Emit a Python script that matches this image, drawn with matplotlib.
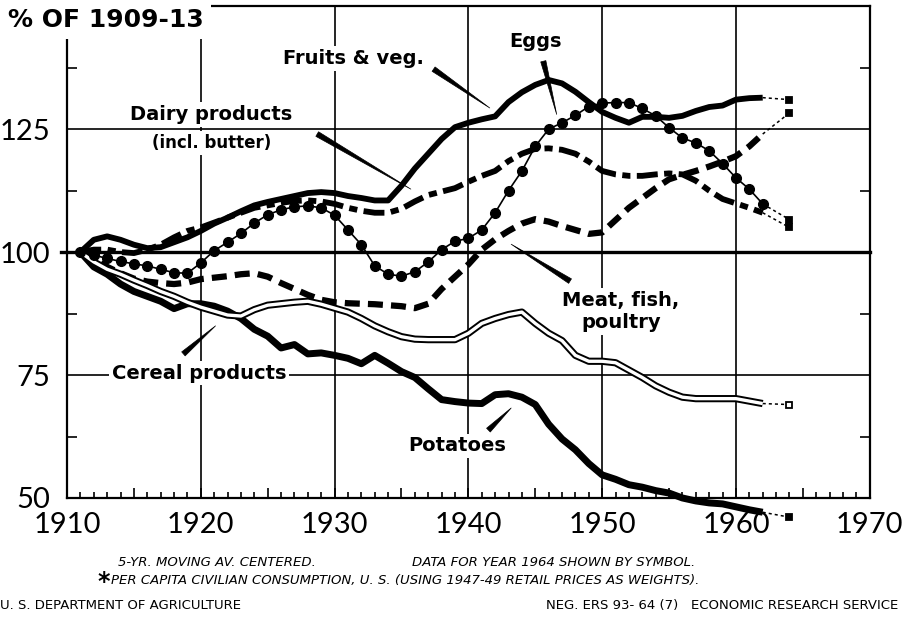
import matplotlib.pyplot as plt
from matplotlib.ticker import MultipleLocator, FixedLocator, FuncFormatter

# 5-yr moving averages, % of 1909-13
years = list(range(1911, 1963))
fruits_veg = [100, 102.5, 103.2, 102.5, 101.5, 100.8, 101.0, 102.0, 103.0, 104.3,
              105.8, 107.0, 108.3, 109.5, 110.2, 110.8, 111.4, 112.0, 112.2, 112.0,
              111.4, 111.0, 110.5, 110.5, 113.5, 117.0, 120.0, 123.0, 125.4, 126.3,
              127.0, 127.6, 130.5, 132.5, 134.0, 135.0, 134.3, 132.6, 130.5, 128.5,
              127.3, 126.3, 127.5, 127.5, 127.3, 127.7, 128.7, 129.5, 129.8, 131.0,
              131.3, 131.4]
dairy = [100, 100.5, 100.5, 100.0, 99.8, 100.5, 101.5, 103.0, 104.3, 105.0,
         106.0, 107.0, 108.0, 109.0, 109.5, 110.0, 110.4, 110.5, 110.3, 109.8,
         109.0, 108.4, 108.0, 108.0, 108.8, 110.3, 111.6, 112.3, 113.0, 114.3,
         115.5, 116.5, 118.5, 120.0, 121.0, 121.1, 120.8, 120.0, 118.4, 116.5,
         115.8, 115.5, 115.5, 115.8, 116.0, 115.8, 114.5, 112.5, 110.8, 109.9,
         109.0, 108.0]
eggs = [100, 99.4, 98.7, 98.1, 97.6, 97.2, 96.5, 95.8, 95.7, 97.8,
        100.3, 102.0, 103.8, 105.9, 107.6, 108.6, 109.2, 109.4, 109.0, 107.5,
        104.5, 101.5, 97.2, 95.5, 95.1, 96.0, 98.0, 100.5, 102.2, 102.8,
        104.5, 108.0, 112.5, 116.5, 121.5, 125.0, 126.3, 127.8, 129.6, 130.3,
        130.4, 130.4, 129.2, 127.7, 125.3, 123.2, 122.2, 120.6, 118.0, 115.1,
        112.8, 109.8]
meat = [100, 98.5, 97.0, 95.7, 94.6, 94.0, 93.7, 93.5, 93.8, 94.5,
        94.8, 95.1, 95.5, 95.7, 95.0, 93.7, 92.5, 91.3, 90.3, 89.8,
        89.6, 89.5, 89.4, 89.2, 89.0, 88.6, 89.5, 92.5, 95.0, 97.5,
        100.5, 102.6, 104.3, 105.8, 106.7, 106.2, 105.3, 104.5, 103.7, 104.0,
        106.5, 109.0, 111.0, 113.0, 114.8, 115.7, 116.5, 117.4, 118.4, 119.5,
        121.5, 124.0]
cereal = [100, 98.0, 96.5, 95.5, 94.3, 93.2, 92.0, 91.0, 89.8, 88.8,
          88.0, 87.2, 87.0, 88.3, 89.2, 89.5, 89.8, 90.0, 89.4, 88.6,
          87.8, 86.5, 85.0, 83.8, 82.8, 82.3, 82.2, 82.2, 82.2, 83.5,
          85.5, 86.5, 87.3, 87.8, 85.5, 83.5, 82.0, 79.0, 77.8, 77.8,
          77.5, 76.0, 74.5, 72.8, 71.5, 70.5, 70.2, 70.2, 70.2, 70.2,
          69.7, 69.2]
potatoes = [100, 97.0, 95.5, 93.5, 92.0, 91.0, 90.0, 88.5, 89.5, 89.5,
            89.0, 88.0, 86.5, 84.3, 82.9, 80.5, 81.2, 79.3, 79.5, 79.0,
            78.4, 77.3, 79.0, 77.4, 75.7, 74.5, 72.2, 70.0, 69.6, 69.3,
            69.2, 71.0, 71.2, 70.5, 69.0, 65.0, 62.0, 59.8, 57.0, 54.7,
            53.8, 52.7, 52.2, 51.5, 51.0, 50.0, 49.4, 49.0, 48.8, 48.2,
            47.6, 47.1]

# data for 1964, shown by symbol
year_1964 = 1964
fruits_veg_1964 = 131.0
dairy_1964 = 105.0
eggs_1964 = 106.6
meat_1964 = 128.3
cereal_1964 = 69.0
potatoes_1964 = 46.1

fig = plt.figure(figsize=(9.07, 6.19), dpi=100)
ax = fig.add_axes([0.0739, 0.1955, 0.885, 0.7945])
ax.set_xlim(1910, 1970)
ax.set_ylim(50, 150)

# grid
for yr in [1920, 1930, 1940, 1950, 1960]:
    ax.axvline(yr, color='black', lw=1.2, zorder=0.5)
ax.axhline(125, color='black', lw=1.2, zorder=0.5)
ax.axhline(75, color='black', lw=1.2, zorder=0.5)
ax.axhline(100, xmin=-0.008, color='black', lw=2.4, zorder=0.5, clip_on=False)

# lines
ax.plot(years, potatoes, color='black', lw=5, solid_capstyle='butt', zorder=4, clip_on=False)
ax.plot(years, cereal, color='black', lw=5.2, solid_capstyle='butt', zorder=5)
ax.plot(years, cereal, color='white', lw=2.4, solid_capstyle='butt', zorder=5.1)
ax.plot(years, fruits_veg, color='black', lw=4.2, solid_capstyle='butt', zorder=4)
ax.plot(years, meat, color='black', lw=4.5, dashes=(2.4, 1.3), dash_capstyle='butt', zorder=4)
ax.plot(years, dairy, color='black', lw=4.2, dashes=(3.6, 1.1, 1.4, 1.1), dash_capstyle='butt', zorder=4)
ax.plot(years, eggs, color='black', lw=1.2, marker='o', ms=7, zorder=6)

# 1964 symbols joined by short dotted lines
ends = [(fruits_veg[-1], fruits_veg_1964, 'black'),
        (dairy[-1], dairy_1964, 'black'),
        (eggs[-1], eggs_1964, 'black'),
        (meat[-1], meat_1964, 'black'),
        (cereal[-1], cereal_1964, 'white'),
        (potatoes[-1], potatoes_1964, 'black')]
for last, val, face in ends:
    ax.plot([years[-1], year_1964], [last, val], color='black', lw=1.1,
            dashes=(2, 2), zorder=3, clip_on=False)
    ax.plot([year_1964], [val], marker='s', ms=5, mfc=face, mec='black',
            mew=1.3, zorder=7, clip_on=False)

# labels
lab = dict(fontsize=14, fontweight='bold', ha='center', va='center', zorder=2,
           bbox=dict(facecolor='white', edgecolor='none', pad=2))
ax.text(1931.4, 139.4, 'Fruits & veg.', **lab)
ax.text(1945.0, 142.9, 'Eggs', **lab)
ax.text(1920.8, 128.0, 'Dairy products', **lab)
ax.text(1920.8, 122.2, '(incl. butter)', fontsize=12, fontweight='bold', ha='center',
        va='center', zorder=2, bbox=dict(facecolor='white', edgecolor='none', pad=2))
ax.text(1951.4, 87.9, 'Meat, fish,\npoultry', linespacing=1.2, **lab)
ax.text(1919.9, 75.4, 'Cereal products', **lab)
ax.text(1939.2, 60.6, 'Potatoes', **lab)

# pointers (wide end first)
pointers = [((1937.4, 137.2), (1941.6, 129.3)),
            ((1945.6, 138.8), (1946.6, 128.0)),
            ((1928.7, 124.0), (1935.7, 112.8)),
            ((1947.6, 94.1), (1943.2, 101.6)),
            ((1918.7, 79.3), (1921.1, 85.0)),
            ((1941.5, 63.8), (1943.2, 68.3))]
for start, end in pointers:
    ax.annotate('', xy=end, xytext=start, zorder=3,
                arrowprops=dict(arrowstyle='wedge,tail_width=0.38,shrink_factor=0.5',
                                fc='black', ec='black', lw=0.5, shrinkA=0, shrinkB=0))

# axes, ticks
for s in ax.spines.values():
    s.set_linewidth(1.6)
ax.xaxis.set_major_locator(MultipleLocator(5))
ax.xaxis.set_minor_locator(MultipleLocator(1))
ax.xaxis.set_major_formatter(FuncFormatter(lambda v, p: '%d' % v if v % 10 == 0 else ''))
ax.yaxis.set_major_locator(FixedLocator([50, 75, 100, 125]))
ax.yaxis.set_minor_locator(FixedLocator([62.5, 87.5, 112.5, 137.5]))
ax.tick_params(axis='x', which='major', direction='in', length=7, width=1.2,
               labelsize=21, pad=10)
ax.tick_params(axis='x', which='minor', direction='in', length=4, width=1.2)
ax.tick_params(axis='y', which='major', length=0, labelsize=21, pad=12)
ax.tick_params(axis='y', which='minor', direction='in', length=7, width=1.2,
               left=True, right=True)
for t in ax.get_xticklabels() + ax.get_yticklabels():
    t.set_fontfamily('Lato')
    t.set_fontweight('normal')

fig.text(0.009, 0.967, '% OF 1909-13', fontsize=18, fontweight='bold', va='center',
         ha='left', bbox=dict(facecolor='white', edgecolor='none', pad=5))

note = dict(fontsize=9.5, style='italic', va='center')
fig.text(0.130, 0.092, '5-YR. MOVING AV. CENTERED.', **note)
fig.text(0.454, 0.092, 'DATA FOR YEAR 1964 SHOWN BY SYMBOL.', **note)
fig.text(0.108, 0.060, '*', fontsize=17, fontweight='bold', va='center')
fig.text(0.122, 0.063, 'PER CAPITA CIVILIAN CONSUMPTION, U. S. (USING 1947-49 RETAIL PRICES AS WEIGHTS).',
         **note)
fig.text(0.0, 0.022, 'U. S. DEPARTMENT OF AGRICULTURE', fontsize=9.5, va='center')
fig.text(0.99, 0.022, 'NEG. ERS 93- 64 (7)   ECONOMIC RESEARCH SERVICE', fontsize=9.5,
         ha='right', va='center')

fig.savefig('out.png', dpi=100)
